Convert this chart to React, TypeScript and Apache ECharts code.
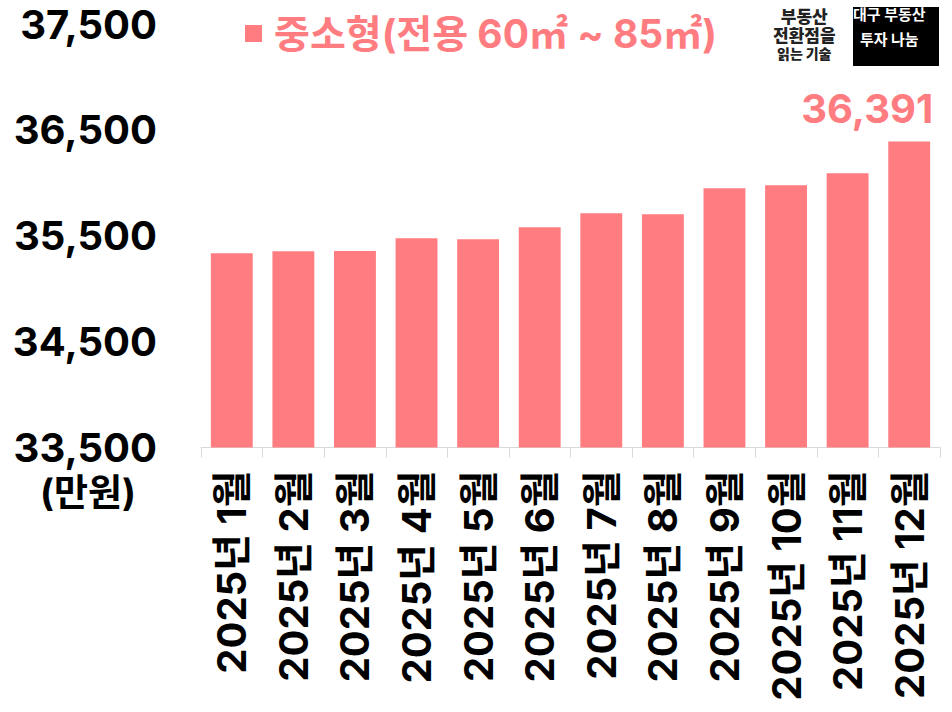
import React, { useEffect, useRef } from 'react';
import * as echarts from 'echarts';

const categories = [
  '2025년 1월', '2025년 2월', '2025년 3월', '2025년 4월', '2025년 5월', '2025년 6월',
  '2025년 7월', '2025년 8월', '2025년 9월', '2025년 10월', '2025년 11월', '2025년 12월',
];
const values = [35334, 35353, 35356, 35476, 35467, 35580, 35713, 35703, 35949, 35978, 36091, 36391];
const seriesName = '중소형(전용 60㎡ ~ 85㎡)';
const yMin = 33500;
const yMax = 37500;
const yLabelStep = 1000;
const unitLabel = '(만원)';
const logoLeftLines = ['부동산', '전환점을', '읽는 기술'];
const logoRightLines = ['대구 부동산', '투자 나눔'];

const PINK = '#FF7C81';
const FONT = "Inter, 'Noto Sans CJK KR', sans-serif";

export default function App() {
  const ref = useRef<HTMLDivElement>(null);
  useEffect(() => {
    document.body.style.margin = '0';
    if (!ref.current) return;
    const chart = echarts.init(ref.current, undefined, { renderer: 'svg' });
    const lastIdx = values.length - 1;
    chart.setOption({
      animation: false,
      textStyle: { fontFamily: FONT },
      grid: { left: 201, right: 12, top: 24, bottom: 264.5, containLabel: false },
      legend: {
        data: [seriesName],
        left: 240,
        top: 9,
        icon: 'rect',
        itemWidth: 17,
        itemHeight: 17,
        selectedMode: false,
        textStyle: {
          color: PINK,
          fontSize: 39,
          fontWeight: 'bold',
          fontFamily: FONT,
          padding: [0, 0, 0, 7],
        },
      },
      xAxis: {
        type: 'category',
        data: categories,
        axisLine: { lineStyle: { color: '#d9d9d9', width: 1 } },
        axisTick: { show: true, length: 10, lineStyle: { color: '#d9d9d9' } },
        axisLabel: {
          interval: 0,
          rotate: 90,
          margin: 23,
          color: '#000',
          fontSize: 40,
          fontWeight: 'bold',
          fontFamily: FONT,
        },
      },
      yAxis: {
        type: 'value',
        min: yMin,
        max: yMax,
        interval: 500,
        splitLine: { show: false },
        axisLine: { show: false },
        axisTick: { show: false },
        axisLabel: {
          margin: 44,
          color: '#000',
          fontSize: 40,
          fontWeight: 'bold',
          fontFamily: FONT,
          formatter: (v: number) =>
            (v - yMin) % yLabelStep === 0 ? v.toLocaleString('en-US') : '',
        },
      },
      series: [
        {
          name: seriesName,
          type: 'bar',
          barWidth: '68%',
          itemStyle: { color: PINK },
          data: values.map((v, i) =>
            i === lastIdx
              ? {
                  value: v,
                  label: {
                    show: true,
                    position: 'top',
                    offset: [-42, -8],
                    color: PINK,
                    fontSize: 40,
                    fontWeight: 'bold',
                    fontFamily: FONT,
                    formatter: (p: any) => Number(p.value).toLocaleString('en-US'),
                  },
                }
              : v
          ),
        },
      ],
      graphic: [
        {
          type: 'text',
          left: 40,
          top: 474,
          style: {
            text: unitLabel,
            fill: '#000',
            font: `bold 37px ${FONT}`,
          },
        },
        {
          type: 'group',
          left: 773,
          top: 8,
          children: [
            {
              type: 'text',
              x: 39,
              y: 0,
              style: {
                text: logoLeftLines[0],
                fill: '#222',
                font: `900 17px ${FONT}`,
                align: 'center',
              },
            },
            {
              type: 'text',
              x: 39,
              y: 19,
              style: {
                text: logoLeftLines[1],
                fill: '#222',
                font: `900 17px ${FONT}`,
                align: 'center',
              },
            },
            {
              type: 'text',
              x: 39,
              y: 38,
              style: {
                text: logoLeftLines[2],
                fill: '#222',
                font: `900 14px ${FONT}`,
                align: 'center',
              },
            },
          ],
        },
        {
          type: 'rect',
          left: 853,
          top: 7,
          shape: { width: 86, height: 59 },
          style: { fill: '#000' },
        },
        {
          type: 'group',
          left: 853,
          top: 7,
          children: [
            {
              type: 'text',
              x: 43,
              y: 8,
              style: {
                text: logoRightLines[0],
                fill: '#fff',
                font: `bold 15px ${FONT}`,
                align: 'center',
              },
            },
            {
              type: 'text',
              x: 43,
              y: 33,
              style: {
                text: logoRightLines[1],
                fill: '#fff',
                font: `bold 15px ${FONT}`,
                align: 'center',
              },
            },
          ],
        },
      ],
    });
    return () => chart.dispose();
  }, []);
  return <div ref={ref} style={{ width: 952, height: 712 }} />;
}
